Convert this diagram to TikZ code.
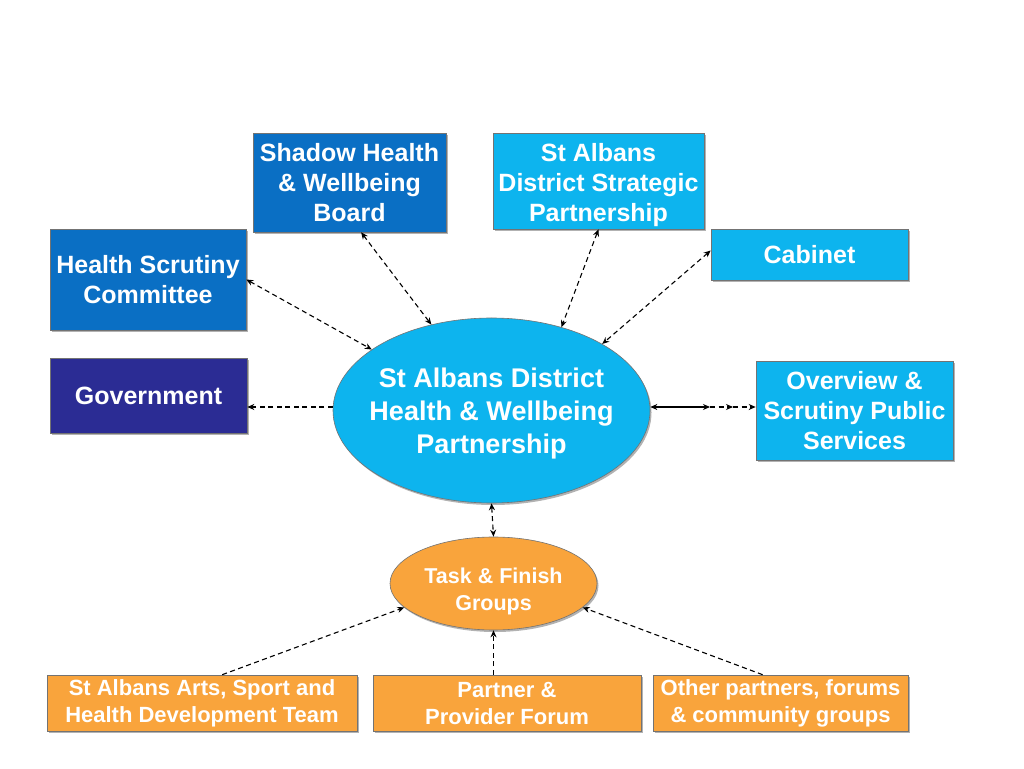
\documentclass[tikz,border=0pt]{standalone}
\usepackage{fontspec}
\setmainfont{Liberation Sans}
\usetikzlibrary{arrows.meta,shapes.geometric,shadows,calc}
\definecolor{dblue}{HTML}{0A6FC4}
\definecolor{cyanb}{HTML}{0DB4EE}
\definecolor{navyb}{HTML}{2B2C94}
\definecolor{orng}{HTML}{F9A43C}
\newcommand{\ctext}[2]{\raisebox{#1}[\height][\depth]{\makebox[0pt]{\begin{tabular}{@{}c@{}}#2\end{tabular}}}}
\begin{document}
\begin{tikzpicture}[x=1pt,y=1pt,
  >={Stealth[length=7pt,width=6pt]},
  shade/.style={drop shadow={shadow xshift=1.5pt,shadow yshift=-2pt,opacity=0.6}},
  box/.style={rectangle, draw=black!55, line width=0.6pt, inner sep=0pt, text=white,
    font=\bfseries\fontsize{25}{30}\selectfont, align=center, shade},
  bluebox/.style={box, fill=dblue},
  cyanbox/.style={box, fill=cyanb},
  navybox/.style={box, fill=navyb},
  orbox/.style={box, fill=orng, font=\bfseries\fontsize{22}{27}\selectfont},
  oval/.style={ellipse, draw=black!55, line width=0.6pt, inner sep=0pt, text=white, shade},
  con/.style={dashed, dash pattern=on 5pt off 3.5pt, line width=1.1pt, black},
  solidcon/.style={line width=1.1pt, black}]
\useasboundingbox (0,0) rectangle (1024,768);
\fill[white] (0,0) rectangle (1024,768);

\node[bluebox, minimum width=193, minimum height=99] (shadow) at (349.5,585.5) {Shadow Health\\\& Wellbeing\\Board};
\node[bluebox, minimum width=196, minimum height=101] (hs) at (148,488.5) {Health Scrutiny\\Committee};
\node[navybox, minimum width=197, minimum height=75] (gov) at (148.5,372.5) {Government};
\node[cyanbox, minimum width=211, minimum height=96] (strat) at (598.5,587) {\ctext{-4.5pt}{St Albans\\District Strategic\\Partnership}};
\node[cyanbox, minimum width=197, minimum height=51] (cab) at (809.5,513.5) {Cabinet};
\node[cyanbox, minimum width=197, minimum height=99] (ov) at (854.5,357.5) {Overview \&\\Scrutiny Public\\Services};

\node[oval, fill=cyanb, minimum width=317, minimum height=185,
  font=\bfseries\fontsize{27}{33}\selectfont] (main) at (491.5,357.5) {\ctext{-3.5pt}{St Albans District\\Health \& Wellbeing\\Partnership}};
\node[oval, fill=orng, minimum width=207, minimum height=93,
  font=\bfseries\fontsize{21.5}{27}\selectfont] (task) at (493.5,184.5) {\ctext{-8.5pt}{Task \& Finish\\Groups}};

\node[orbox, minimum width=310, minimum height=56] (arts) at (202,65) {St Albans Arts, Sport and\\Health Development Team};
\node[orbox, minimum width=268, minimum height=56] (partner) at (507,65) {Partner \&\\Provider Forum};
\node[orbox, minimum width=255, minimum height=56] (other) at (780.5,65) {Other partners, forums\\\& community groups};

\coordinate (oa) at (710,361);
\coordinate (ob) at (733,361);

\draw[con,<->] (hs.east) -- (main.153);
\draw[con,<->] ($(shadow.south west)!0.56!(shadow.south east)$) -- (main.125.6);
\draw[con,<->] (strat.south) -- (main.50.6);
\draw[con,<->] ([yshift=4pt]cab.west) -- (main.31.7);
\draw[con,->] ([yshift=3.5pt]main.west) -- ([yshift=3.5pt]main.west -| gov.east);
\draw[solidcon,<->] ([yshift=3.5pt]main.east) -- (oa);
\draw[con,->] (oa) -- (ob);
\draw[con,->] (ob) -- (ob -| ov.west);
\draw[con,<->] (main.south) -- (task.north);
\draw[con,->] ($(arts.north west)!0.565!(arts.north east)$) -- (task.195);
\draw[con,->] (task.south |- partner.north) -- (task.south);
\draw[con,->] ($(other.north west)!0.43!(other.north east)$) -- (task.345);
\end{tikzpicture}
\end{document}
